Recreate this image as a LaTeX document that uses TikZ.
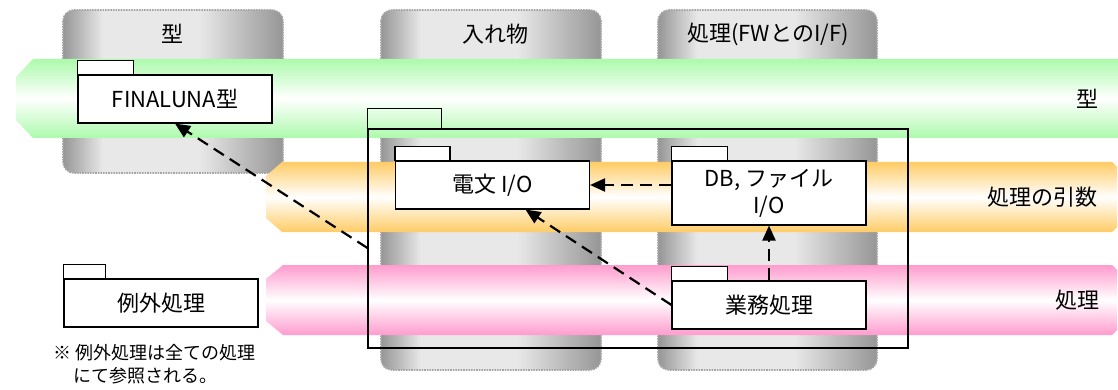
\documentclass[tikz,border=0pt]{standalone}
\usepackage{fontspec}
\setmainfont{Noto Sans CJK JP}
\usetikzlibrary{arrows.meta,positioning}
\definecolor{bandgreen}{RGB}{172,250,172}
\definecolor{bandorange}{RGB}{255,204,102}
\definecolor{bandpink}{RGB}{255,156,206}
\definecolor{coldark}{RGB}{150,150,150}
\definecolor{collight}{RGB}{232,232,232}
\pgfdeclarehorizontalshading{colshade}{100bp}{color(0bp)=(coldark); color(25bp)=(coldark); color(34bp)=(collight); color(56bp)=(collight); color(75bp)=(coldark); color(100bp)=(coldark)}

\begin{document}
\begin{tikzpicture}[x=1pt, y=-1pt,
  column/.style={shading=colshade, shade, draw=gray!70, densely dotted, line width=1.6pt, rounded corners=11pt},
  pkg/.style={draw, fill=white, line width=1.1pt, minimum width=194pt, minimum height=48pt, inner sep=0pt, font=\fontsize{22}{27}\selectfont},
  pkgframe/.style={draw, line width=1.1pt, minimum width=540pt, minimum height=219pt, inner sep=0pt},
  dep/.style={line width=2.2pt, dash pattern=on 12pt off 7pt, -{Triangle[length=15pt,width=13pt]}},
  lbl/.style={font=\fontsize{22}{25}\selectfont}]

  \useasboundingbox (0,0) rectangle (1118,390);

  \newcommand\pkgtab[2]{\draw[line width=1.1pt, fill=white] (#1.north west) rectangle +(#2,-14);}

  %% columns
  \path[column] (63,10) rectangle (283,173);
  \path[column] (381,10) rectangle (601,370);
  \path[column] (658,10) rectangle (877,370);
  \node[lbl] (coltype) at (172,34) {型};
  \node[lbl] (colbox) at (495,34) {入れ物};
  \node[lbl] (colproc) at (768,34) {処理(FWとのI/F)};

  %% bands
  \shade[top color=bandgreen, bottom color=bandgreen, middle color=white]
    (33,59) -- (1118,59) -- (1118,138) -- (33,138) -- (16,120) -- (16,77) -- cycle;
  \shade[top color=bandorange, bottom color=bandorange, middle color=white]
    (282,162) -- (1112,162) -- (1117,167) -- (1117,227) -- (1112,232) -- (282,232) -- (266,218) -- (266,176) -- cycle;
  \shade[top color=bandpink, bottom color=bandpink, middle color=white]
    (283,265) -- (1112,265) -- (1117,270) -- (1117,330) -- (1112,335) -- (283,335) -- (266,321) -- (266,279) -- cycle;
  \node[lbl, anchor=east] (bandtype) at (1102,99) {型};
  \node[lbl, anchor=east] (bandarg) at (1101,197) {処理の引数};
  \node[lbl, anchor=east] (bandproc) at (1103,300) {処理};

  %% packages
  \node[pkg] (finaluna) at (175,99) {FINALUNA型};
  \pkgtab{finaluna}{56}
  \node[pkgframe] (frame) at (638,238.5) {};
  \draw[line width=1.1pt] (frame.north west) rectangle +(74,-20);
  \node[pkg] (denbun) at (492.5,185) {電文 I/O};
  \pkgtab{denbun}{55}
  \node[pkg, minimum height=64pt, align=center] (dbfile) at (769,193) {DB, ファイル\\I/O};
  \pkgtab{dbfile}{56}
  \node[pkg] (gyomu) at (769,305) {業務処理};
  \pkgtab{gyomu}{56}
  \node[pkg] (reigai) at (161,303) {例外処理};
  \pkgtab{reigai}{42}

  \node[anchor=north west, align=left, font=\fontsize{18}{25}\selectfont] (note) at (50,341)
    {※ 例外処理は全ての処理\\[-2pt]\hspace{1.1em}にて参照される。};

  %% dependencies
  \draw[dep] ([yshift=-9.5pt]frame.west) -- (finaluna.south);
  \draw[dep] (dbfile.west |- denbun.east) -- (denbun.east);
  \draw[dep] (gyomu.west) -- ([xshift=33pt]denbun.south);
  \draw[dep] (gyomu.north) -- (dbfile.south);
\end{tikzpicture}
\end{document}
